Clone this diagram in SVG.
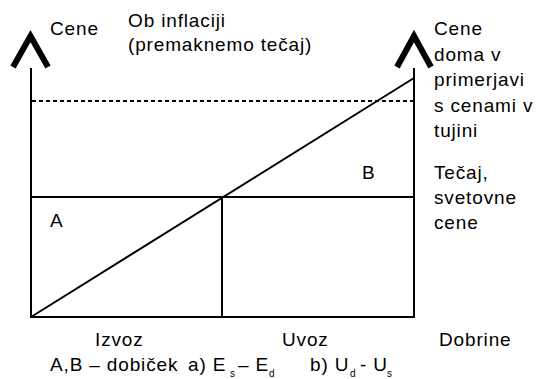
<svg xmlns="http://www.w3.org/2000/svg" width="537" height="379" viewBox="0 0 537 379">
<style>
.t{font-family:"Liberation Sans",Arial,sans-serif;font-size:19px;letter-spacing:0.85px;fill:#000}
.sub{font-size:10px;letter-spacing:0}
.ln{stroke:#000;stroke-width:2;fill:none}
.dot{stroke:#000;stroke-width:2;fill:none;stroke-dasharray:4 3}
.chev{stroke:#000;stroke-width:6;fill:none;stroke-linejoin:miter;stroke-linecap:butt}
</style>
<rect width="537" height="379" fill="#fff"/>
<g id="connectors">
<line class="ln" x1="31" y1="68" x2="31" y2="318"/>
<line class="ln" x1="414" y1="68" x2="414" y2="318"/>
<line class="ln" x1="30" y1="317" x2="415" y2="317"/>
<line class="ln" x1="31" y1="197" x2="414" y2="197"/>
<line class="ln" x1="222" y1="197" x2="222" y2="317"/>
<line class="ln" x1="31" y1="317" x2="414" y2="78"/>
<line class="dot" x1="32" y1="101" x2="413" y2="101"/>
<polyline class="chev" points="13,67 30.5,36 48,67"/>
<polyline class="chev" points="397,67 414,36 431,67"/>
</g>
<g id="labels">
<text class="t" x="50" y="35">Cene</text>
<text class="t" x="128" y="27">Ob inflaciji</text>
<text class="t" x="128" y="51">(premaknemo tečaj)</text>
<text class="t" x="434" y="35">Cene</text>
<text class="t" x="434" y="61">doma v</text>
<text class="t" x="434" y="86">primerjavi</text>
<text class="t" x="434" y="112">s cenami v</text>
<text class="t" x="434" y="137">tujini</text>
<text class="t" x="434" y="179">Tečaj,</text>
<text class="t" x="434" y="204">svetovne</text>
<text class="t" x="434" y="229">cene</text>
<text class="t" x="362" y="179">B</text>
<text class="t" x="50" y="227">A</text>
<text class="t" x="95" y="346">Izvoz</text>
<text class="t" x="282" y="346">Uvoz</text>
<text class="t" x="439" y="346">Dobrine</text>
<text class="t" y="371"><tspan x="50">A,B – dobiček</tspan><tspan x="188">a) E</tspan><tspan class="sub" x="230" y="377">s</tspan><tspan x="238" y="371">– E</tspan><tspan class="sub" x="269" y="377">d</tspan><tspan x="310" y="371">b) U</tspan><tspan class="sub" x="350" y="377">d</tspan><tspan x="360" y="371">- U</tspan><tspan class="sub" x="387" y="377">s</tspan></text>
</g>
</svg>
